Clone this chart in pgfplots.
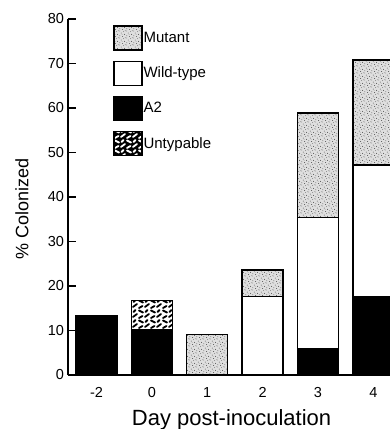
\documentclass[border=0pt]{standalone}
\usepackage{pgfplots}
\pgfplotsset{compat=1.18}
\usepackage{fontspec}
\setmainfont{Liberation Sans}
\usetikzlibrary{patterns}
\newcommand\tl{\fontsize{14.5}{16}\selectfont}

\pgfdeclarepatternformonly{stipple}{\pgfpoint{-1pt}{-1pt}}{\pgfpoint{8pt}{8pt}}{\pgfpoint{7pt}{7pt}}{
  \pgfpathcircle{\pgfpoint{0.8pt}{1.2pt}}{0.45pt}
  \pgfpathcircle{\pgfpoint{3.6pt}{0.5pt}}{0.4pt}
  \pgfpathcircle{\pgfpoint{5.5pt}{2.6pt}}{0.5pt}
  \pgfpathcircle{\pgfpoint{2.2pt}{3.9pt}}{0.45pt}
  \pgfpathcircle{\pgfpoint{4.6pt}{5.3pt}}{0.4pt}
  \pgfpathcircle{\pgfpoint{0.7pt}{6.0pt}}{0.4pt}
  \pgfpathcircle{\pgfpoint{6.3pt}{6.2pt}}{0.35pt}
  \pgfpathcircle{\pgfpoint{3.1pt}{2.3pt}}{0.3pt}
  \pgfusepath{fill}}

\pgfdeclarepatternformonly{untyp}{\pgfpoint{-2pt}{-2pt}}{\pgfpoint{14pt}{12pt}}{\pgfpoint{12pt}{10pt}}{
  \pgfsetlinewidth{1.8pt}\pgfsetroundcap
  \pgfpathmoveto{\pgfpoint{1pt}{2pt}}\pgfpathlineto{\pgfpoint{5pt}{5pt}}
  \pgfpathmoveto{\pgfpoint{7pt}{8.5pt}}\pgfpathlineto{\pgfpoint{11pt}{6.5pt}}
  \pgfpathmoveto{\pgfpoint{7pt}{1pt}}\pgfpathlineto{\pgfpoint{10.5pt}{3pt}}
  \pgfpathmoveto{\pgfpoint{1.5pt}{7pt}}\pgfpathlineto{\pgfpoint{3.5pt}{9pt}}
  \pgfusepath{stroke}}

\pgfplotstableread{
x a2 unt wt mut
0 13.4 0 0 0
1 10.1 6.7 0 0
2 0 0 0 9.1
3 0 0 17.6 6.0
4 6.0 0 29.4 23.5
5 17.6 0 29.6 23.6
}\datatable

\tikzset{
  a2bar/.style={fill=black, draw=black, line width=1.3pt},
  untbar/.style={fill=white, draw=black, line width=1.3pt, postaction={pattern=untyp, pattern color=black}},
  wtbar/.style={fill=white, draw=black, line width=1.3pt},
  mutbar/.style={fill=gray!25, draw=black, line width=1.3pt, postaction={pattern=stipple, pattern color=black!70}},
}

\begin{document}
\begin{tikzpicture}
\begin{axis}[
  scale only axis, width=322pt, height=356pt,
  xmin=-0.514, xmax=5.30, ymin=0, ymax=80,
  axis x line=bottom, axis y line=left,
  axis line style={-, line width=1.5pt},
  xtick={0,1,2,3,4,5}, xticklabels={\tl -2,\tl 0,\tl 1,\tl 2,\tl 3,\tl 4},
  ytick={0,10,20,30,40,50,60,70,80},
  yticklabels={\tl 0,\tl 10,\tl 20,\tl 30,\tl 40,\tl 50,\tl 60,\tl 70,\tl 80},
  tick align=inside, major tick length=8pt,
  xtick style={draw=none},
  ytick style={line width=1.5pt, black},
  xticklabel style={yshift=-9pt},
  yticklabel style={xshift=-0.5pt},
  xlabel={Day post-inoculation},
  ylabel={\% Colonized},
  xlabel style={font=\fontsize{22}{25}\selectfont, at={(axis description cs:0.508,0)}, anchor=center, yshift=-45pt},
  ylabel style={font=\fontsize{18}{21}\selectfont, at={(axis description cs:0,0.466)}, anchor=center, yshift=46pt},
  ybar stacked, bar width=0.74,
  legend cell align=left,
  legend style={at={(rel axis cs:0.14,0.983)}, anchor=north west, draw=none, fill=none,
    inner sep=0pt, row sep=10pt, font=\fontsize{15}{17}\selectfont,
    nodes={inner sep=1pt}},
]
\addlegendimage{legend image code/.code={\draw[mutbar] (0pt,-12pt) rectangle (28pt,12pt);}}
\addlegendentry{Mutant}
\addlegendimage{legend image code/.code={\draw[wtbar] (0pt,-12pt) rectangle (28pt,12pt);}}
\addlegendentry{Wild-type}
\addlegendimage{legend image code/.code={\draw[a2bar] (0pt,-12pt) rectangle (28pt,12pt);}}
\addlegendentry{A2}
\addlegendimage{legend image code/.code={\draw[fill=black, draw=black, line width=1.3pt, postaction={pattern=untyp, pattern color=white}] (0pt,-12pt) rectangle (28pt,12pt);}}
\addlegendentry{Untypable}

\addplot[a2bar, forget plot] table[x=x, y=a2] {\datatable};
\addplot[untbar, forget plot] table[x=x, y=unt] {\datatable};
\addplot[wtbar, forget plot] table[x=x, y=wt] {\datatable};
\addplot[mutbar, forget plot] table[x=x, y=mut] {\datatable};
\end{axis}
\pgfresetboundingbox
\path (-68pt,-54pt) rectangle (322pt,375pt);
\end{tikzpicture}
\end{document}
